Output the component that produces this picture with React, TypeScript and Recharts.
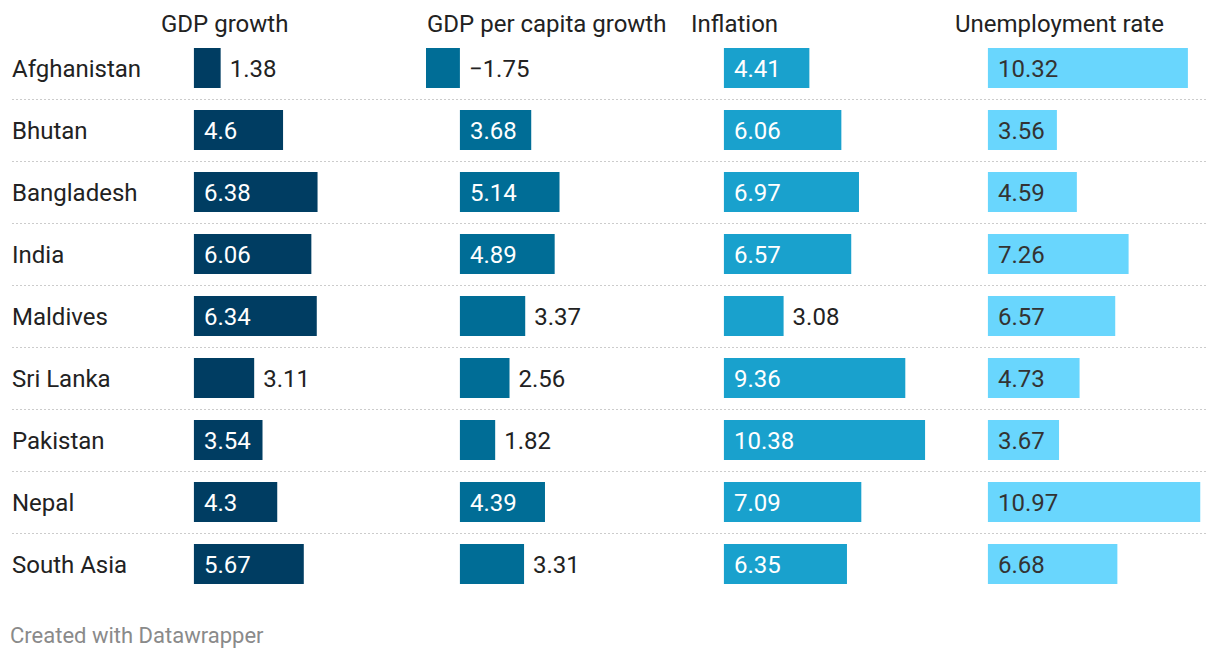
import React from 'react';
import { BarChart, Bar, XAxis, YAxis, LabelList } from 'recharts';

const countries = ['Afghanistan', 'Bhutan', 'Bangladesh', 'India', 'Maldives', 'Sri Lanka', 'Pakistan', 'Nepal', 'South Asia'];
const gdpGrowth = [1.38, 4.6, 6.38, 6.06, 6.34, 3.11, 3.54, 4.3, 5.67];
const gdpPerCapitaGrowth = [-1.75, 3.68, 5.14, 4.89, 3.37, 2.56, 1.82, 4.39, 3.31];
const inflation = [4.41, 6.06, 6.97, 6.57, 3.08, 9.36, 10.38, 7.09, 6.35];
const unemployment = [10.32, 3.56, 4.59, 7.26, 6.57, 4.73, 3.67, 10.97, 6.68];

const seriesTitles = ['GDP growth', 'GDP per capita growth', 'Inflation', 'Unemployment rate'];
const seriesColors = ['#003d62', '#006d96', '#19a1cd', '#69d6fd'];
const insideTextColors = ['#ffffff', '#ffffff', '#ffffff', '#333333'];
const seriesValues = [gdpGrowth, gdpPerCapitaGrowth, inflation, unemployment];

const FONT = 'Roboto, sans-serif';
const FS = 24;
const COL_LEFT = [160, 426, 690, 954];
const COL_W = 246.5;
const MARGIN = { top: 37, bottom: 65 };

const rows = countries.map((country, i) => {
  const r: Record<string, string | number> = { country, sep: 1 };
  seriesValues.forEach((vals, s) => (r['s' + s] = vals[i]));
  return r;
});

// every column shares one scale
const allValues = seriesValues.flat();
const domain = [Math.min(0, ...allValues), Math.max(...allValues)];

const fmt = (v: number) => (v < 0 ? '\u2212' + Math.abs(v) : String(v));

// rough Roboto width, good enough to decide inside / outside
const textWidth = (t: string) =>
  t.split('').reduce((w, c) => w + (c === '.' ? 0.263 : c === '\u2212' ? 0.58 : 0.5615), 0) * FS;

const makeValueLabel = (insideColor: string) => (props: any) => {
  const { x, y, width, height, value } = props;
  const v = Number(value);
  const x0 = Number(x);
  const w = Number(width);
  const lo = Math.min(x0, x0 + w);
  const hi = Math.max(x0, x0 + w);
  const zero = v >= 0 ? lo : hi;
  const text = fmt(v);
  const fits = v >= 0 && hi - lo >= textWidth(text) + 20;
  const tx = fits ? zero + 10 : (v >= 0 ? hi : zero) + 9;
  return (
    <text
      x={tx}
      y={Number(y) + Number(height) / 2}
      dy="0.355em"
      fill={fits ? insideColor : '#222222'}
      fontSize={FS}
      fontFamily={FONT}
    >
      {text}
    </text>
  );
};

const Separator = (props: any) => {
  const { x, y, width, height, index } = props;
  if (index === rows.length - 1) return <g />;
  const yy = Math.round(y + height) + 0.5;
  return <line x1={x} x2={x + width} y1={yy} y2={yy} stroke="#cccccc" strokeWidth={1} strokeDasharray="2 2" />;
};

export default function App() {
  return (
    <div style={{ position: 'absolute', left: 0, top: 0, width: 1220, height: 660, background: '#ffffff', fontFamily: FONT }}>
      <div style={{ position: 'absolute', left: 0, top: 0 }}>
        <BarChart
          width={1220}
          height={660}
          data={rows}
          layout="vertical"
          barCategoryGap={0}
          margin={{ top: MARGIN.top, bottom: MARGIN.bottom, left: 12, right: 13 }}
        >
          <XAxis type="number" hide domain={[0, 1]} />
          <YAxis type="category" dataKey="country" hide />
          <Bar dataKey="sep" fill="none" shape={Separator} isAnimationActive={false}>
            <LabelList
              dataKey="country"
              position="insideLeft"
              offset={0}
              fill="#222222"
              fontSize={FS}
              fontFamily={FONT}
            />
          </Bar>
        </BarChart>
      </div>

      {seriesTitles.map((title, s) => (
        <div key={title} style={{ position: 'absolute', left: COL_LEFT[s], top: 0 }}>
          <BarChart
            width={COL_W}
            height={660}
            data={rows}
            layout="vertical"
            margin={{ top: MARGIN.top, bottom: MARGIN.bottom, left: 0, right: 0 }}
          >
            <XAxis type="number" hide domain={domain} allowDataOverflow />
            <YAxis type="category" dataKey="country" hide />
            <Bar dataKey={'s' + s} fill={seriesColors[s]} barSize={40} isAnimationActive={false}>
              <LabelList dataKey={'s' + s} content={makeValueLabel(insideTextColors[s])} />
            </Bar>
          </BarChart>
        </div>
      ))}

      <svg width={1220} height={660} style={{ position: 'absolute', left: 0, top: 0, pointerEvents: 'none' }}>
        {seriesTitles.map((title, s) => (
          <text key={title} x={COL_LEFT[s] + 1} y={32} fontSize={FS} fill="#222222" fontFamily={FONT}>
            {title}
          </text>
        ))}
        <text x={10} y={643} fontSize={22} fill="#8a8a8a" fontFamily={FONT}>
          Created with Datawrapper
        </text>
      </svg>
    </div>
  );
}
